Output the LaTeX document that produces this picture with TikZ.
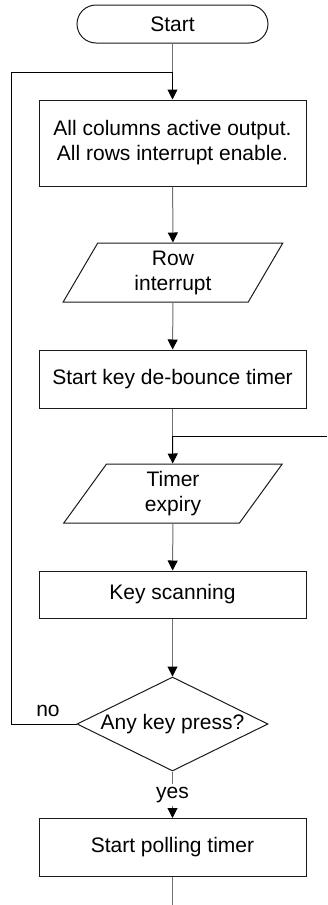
\documentclass[tikz,border=0pt]{standalone}
\usepackage{fontspec}
\setmainfont{Liberation Sans}
\usetikzlibrary{arrows.meta,shapes.geometric}
\definecolor{conn}{HTML}{707070}
\definecolor{edge}{HTML}{1A1A1A}
\begin{document}
\begin{tikzpicture}[x=1pt,y=-1pt, font=\fontsize{21}{25}\selectfont,
  every node/.style={inner sep=0pt, text=black},
  proc/.style={draw=edge, line width=1pt, minimum width=267pt, align=center},
  term/.style={draw=edge, line width=1pt, rounded corners=19pt, minimum width=191pt, minimum height=38pt},
  io/.style={draw=edge, line width=1pt, trapezium, trapezium stretches=true, trapezium left angle=68, trapezium right angle=112, minimum width=220pt, minimum height=59pt, align=center},
  decision/.style={draw=edge, line width=1pt, diamond, minimum width=191pt, minimum height=94pt, aspect=2},
  flow/.style={draw=conn, line width=1pt},
  loopline/.style={draw=black, line width=1pt},
  tip/.style={-{Triangle[width=10pt,length=10pt,color=black]}}
]
\useasboundingbox (0,0) rectangle (327,905);
\node[term] (start) at (172.5,24) {Start};
\node[proc, minimum height=86pt] (b1) at (172.5,143) {All columns active output.\\All rows interrupt enable.};
\node[io] (p1) at (173,272.5) {Row\\interrupt};
\node[proc, minimum height=58pt] (b2) at (172.5,379) {Start key de-bounce timer};
\node[io] (p2) at (173,493.5) {Timer\\expiry};
\node[proc, minimum height=47pt] (b3) at (172.5,594.5) {Key scanning};
\node[decision] (d) at (172.5,724) {Any key press?};
\node[proc, minimum height=58pt] (b4) at (172.5,847.5) {Start polling timer};
\coordinate (j1) at (172.5,72);
\coordinate (j2) at (172.5,436);
\coordinate (out1) at (327,436);
\coordinate (out2) at (172.5,905);
\coordinate (lx) at (11,0);
\draw[flow] (start) -- (j1);
\draw[loopline, tip] (j1) -- (b1);
\draw[flow, tip] (b1) -- (p1);
\draw[flow, tip] (p1) -- (b2);
\draw[flow] (b2) -- (j2);
\draw[loopline, tip] (j2) -- (p2);
\draw[loopline] (j2) -- (out1);
\draw[flow, tip] (p2) -- (b3);
\draw[flow, tip] (b3) -- (d);
\draw[flow, tip] (d) -- node[fill=white, inner sep=3pt] (yes) {yes} (b4);
\draw[loopline] (d.west) -- (d.west -| lx) -- (j1 -| lx) -- (j1);
\node (no) at (48,710.5) {no};
\draw[flow] (b4) -- (out2);
\end{tikzpicture}
\end{document}
